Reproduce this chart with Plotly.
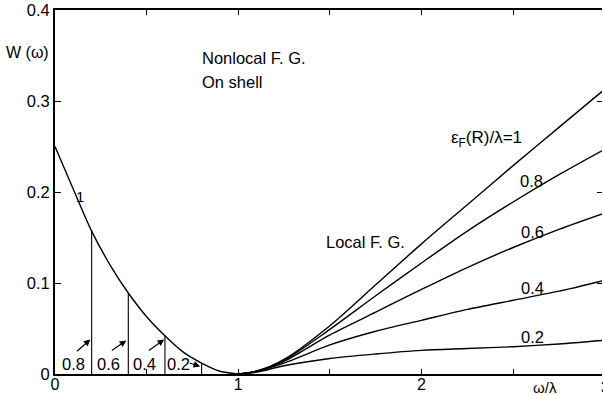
import plotly.graph_objects as go

# ---- data ----
# Nonlocal F.G., on shell, left branch (omega/lambda from 0 to 1)
left_x = [0.0, 0.1, 0.2, 0.3, 0.4, 0.5, 0.6, 0.7, 0.8, 0.9, 1.0]
left_y = [0.250, 0.203, 0.157, 0.120, 0.089, 0.063, 0.042, 0.024, 0.012, 0.003, 0.0]

# drop lines at eps_F(R)/lambda = 0.8, 0.6, 0.4, 0.2
drop_x = [0.2, 0.4, 0.6, 0.8]
drop_top = [0.157, 0.089, 0.042, 0.012]
drop_labels = ["0.8", "0.6", "0.4", "0.2"]

# right branch curves (omega/lambda from 1 to 3)
right_x = [1.0, 1.1, 1.25, 1.5, 1.75, 2.0, 2.25, 2.5, 2.75, 3.0]
curve_1 = [0.0, 0.003, 0.016, 0.053, 0.098, 0.143, 0.186, 0.229, 0.271, 0.313]
curve_08 = [0.0, 0.003, 0.015, 0.049, 0.086, 0.122, 0.157, 0.189, 0.219, 0.247]
curve_06 = [0.0, 0.003, 0.014, 0.043, 0.068, 0.093, 0.117, 0.139, 0.159, 0.177]
curve_04 = [0.0, 0.003, 0.012, 0.032, 0.047, 0.059, 0.071, 0.081, 0.091, 0.103]
curve_02 = [0.0, 0.002, 0.009, 0.017, 0.022, 0.026, 0.028, 0.030, 0.033, 0.037]

x_tickvals = [0, 0.5, 1, 1.5, 2, 2.5, 3]
x_ticktext = ["0", " ", "1", " ", "2", " ", "3"]
y_tickvals = [0, 0.1, 0.2, 0.3, 0.4]
y_ticktext = ["0", "0.1", "0.2", "0.3", "0.4"]

FONT = "Liberation Sans, Arial, sans-serif"
LW = 1.4
TS = 16.5

fig = go.Figure()
fig.add_trace(go.Scatter(x=left_x, y=left_y, mode="lines",
                         line=dict(color="black", width=LW, shape="spline", smoothing=0.8),
                         showlegend=False, hoverinfo="skip"))
for xv, yt in zip(drop_x, drop_top):
    fig.add_trace(go.Scatter(x=[xv, xv], y=[0, yt], mode="lines",
                             line=dict(color="black", width=1.1),
                             showlegend=False, hoverinfo="skip"))
for cy in [curve_1, curve_08, curve_06, curve_04, curve_02]:
    fig.add_trace(go.Scatter(x=right_x, y=cy, mode="lines",
                             line=dict(color="black", width=LW, shape="spline", smoothing=0.8),
                             showlegend=False, hoverinfo="skip"))

# invisible trace on right y axis so its ticks are drawn
fig.add_trace(go.Scatter(x=[0], y=[0], yaxis="y2", mode="markers",
                         marker=dict(opacity=0), showlegend=False, hoverinfo="skip"))

ann = []
def txt(x, y, s, size=TS, xanchor="center", yanchor="middle", xref="x", yref="y"):
    ann.append(dict(x=x, y=y, text=s, showarrow=False, xref=xref, yref=yref,
                    xanchor=xanchor, yanchor=yanchor,
                    font=dict(family=FONT, size=size, color="black")))

txt(0.79, 0.347, "Nonlocal F. G.", xanchor="left")
txt(0.79, 0.321, "On shell", xanchor="left")
txt(0.139, 0.195, "1", size=15)
txt(1.47, 0.145, "Local F. G.", xanchor="left")
txt(2.15, 0.258, "ε<sub>F</sub>(R)/λ=1", size=17, xanchor="left")
txt(2.60, 0.212, "0.8")
txt(2.605, 0.156, "0.6")
txt(2.605, 0.094, "0.4")
txt(2.605, 0.041, "0.2")

# bottom-left labels with arrows
lab_x = [0.099, 0.291, 0.487, 0.672]
for lx, s in zip(lab_x, drop_labels):
    txt(lx, 0.0115, s)
arrow_tail = [(0.112, 0.0236), (0.302, 0.0247), (0.504, 0.0247), (0.727, 0.0126)]
arrow_head = [(0.193, 0.038), (0.389, 0.0368), (0.596, 0.038), (0.792, 0.0082)]
for (tx, ty), (hx, hy) in zip(arrow_tail, arrow_head):
    ann.append(dict(x=hx, y=hy, ax=tx, ay=ty, xref="x", yref="y", axref="x", ayref="y",
                    text="", showarrow=True, arrowhead=2, arrowsize=1.1, arrowwidth=1.2,
                    arrowcolor="black", standoff=0, startstandoff=0))

# labels outside the plotting area (paper coords)
txt(-0.05, 0.882, "W (ω)", size=16, xref="paper", yref="paper")
txt(0.896, -0.036, "ω/λ", size=15, xref="paper", yref="paper")
txt(1.006, -0.036, "3", size=16, xref="paper", yref="paper")

fig.update_layout(
    width=603, height=395,
    margin=dict(l=55, r=1, t=10, b=21, autoexpand=False),
    paper_bgcolor="white", plot_bgcolor="white",
    font=dict(family=FONT, size=16, color="black"),
    annotations=ann,
    xaxis=dict(range=[0, 2.985], tickvals=x_tickvals, ticktext=x_ticktext,
               ticks="inside", ticklen=5, tickwidth=1.2, tickcolor="black",
               showline=True, linewidth=1.6, linecolor="black", mirror="ticks",
               showgrid=False, zeroline=False, tickfont=dict(size=16),
               ticklabelstandoff=-5, automargin=False),
    yaxis=dict(range=[0, 0.4], tickvals=y_tickvals, ticktext=y_ticktext,
               ticks="inside", ticklen=6, tickwidth=1.2, tickcolor="black",
               showline=True, linewidth=2, linecolor="black",
               showgrid=False, zeroline=False, tickfont=dict(size=16.5),
               automargin=False),
    yaxis2=dict(range=[0, 0.4], overlaying="y", side="right",
                tickvals=y_tickvals, ticks="inside", ticklen=5, tickwidth=1.4,
                tickcolor="black", showticklabels=False, showline=False,
                showgrid=False, zeroline=False, automargin=False),
)

fig.write_html("out.html")
